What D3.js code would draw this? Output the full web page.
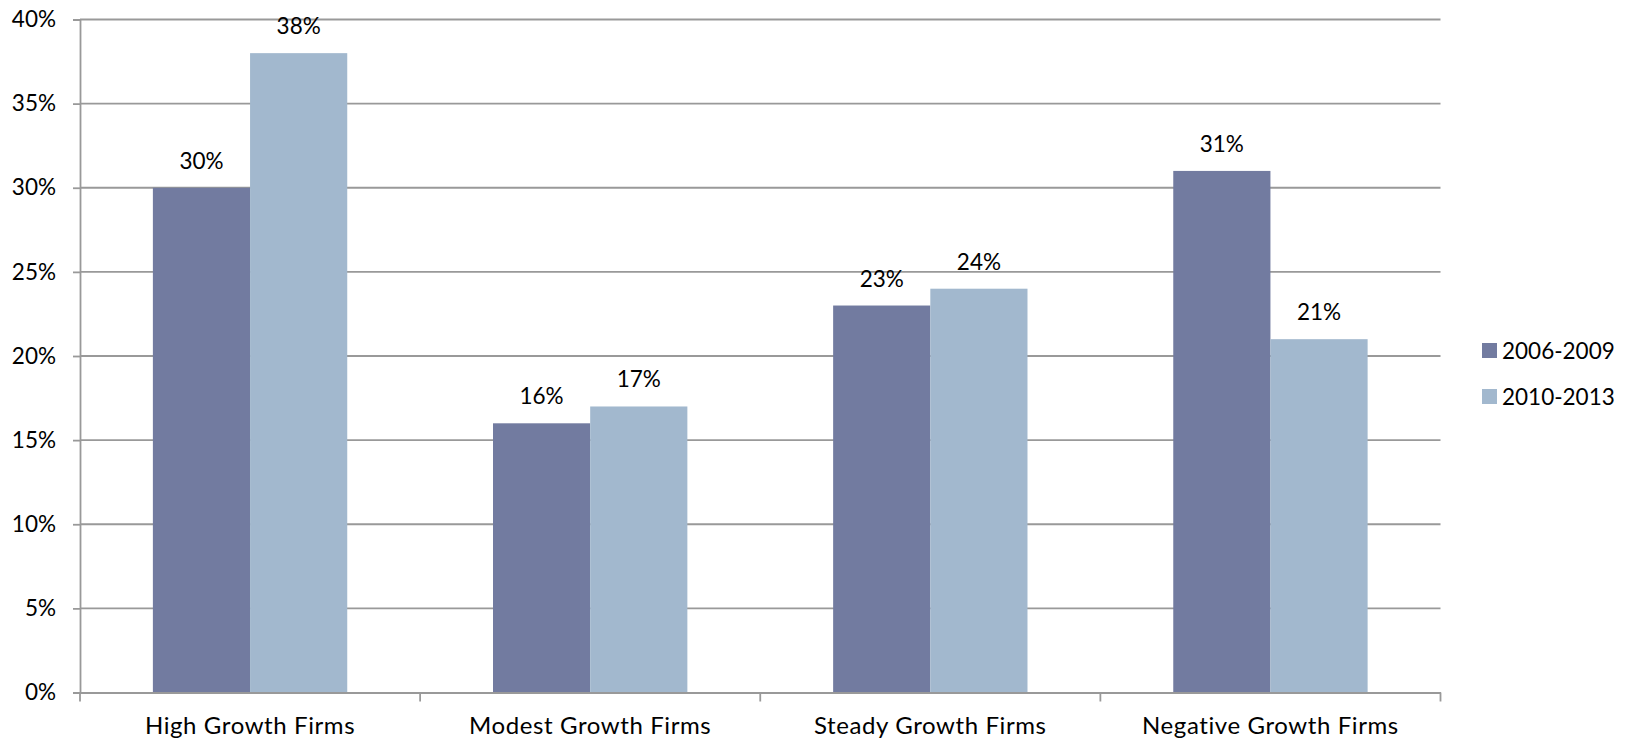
<!DOCTYPE html>
<html>
<head>
<meta charset="utf-8">
<script src="https://cdn.jsdelivr.net/npm/d3@7"></script>
<style>
  html, body { margin: 0; padding: 0; background: #fff; }
  svg { display: block; font-family: "Lato", "Open Sans", sans-serif; }
</style>
</head>
<body>
<svg id="chart" width="1635" height="742"></svg>
<script>
const categories = ["High Growth Firms", "Modest Growth Firms", "Steady Growth Firms", "Negative Growth Firms"];
const seriesNames = ["2006-2009", "2010-2013"];
const values2006 = [30, 16, 23, 31];
const values2010 = [38, 17, 24, 21];
const yTicks = [0, 5, 10, 15, 20, 25, 30, 35, 40];
const colors = ["#727ba0", "#a2b8ce"];

(function () {
const svg = d3.select("#chart");
const plotLeft = 80, plotRight = 1440.5, plotTop = 19.5, plotBottom = 692.5;
const gridColor = "#999999";

const x0 = d3.scaleBand().domain(categories).range([plotLeft, plotRight]).paddingInner(0).paddingOuter(0);
// Excel gap width 150%: bars occupy 2/(2+1.5) of band
const gapRatio = 1.5 / (2 + 1.5);
const x1 = d3.scaleBand().domain(seriesNames)
  .range([x0.bandwidth() * gapRatio / 2, x0.bandwidth() * (1 - gapRatio / 2)])
  .padding(0);
const y = d3.scaleLinear().domain([0, 40]).range([plotBottom, plotTop]);

// gridlines
svg.append("g").selectAll("line").data(yTicks.filter(d => d > 0)).join("line")
  .attr("x1", plotLeft).attr("x2", plotRight)
  .attr("y1", d => y(d)).attr("y2", d => y(d))
  .attr("stroke", gridColor).attr("stroke-width", 1.8);

// bars
const data = categories.map((c, i) => ({ cat: c, vals: [values2006[i], values2010[i]] }));
const groups = svg.append("g").selectAll("g").data(data).join("g")
  .attr("transform", d => `translate(${x0(d.cat)},0)`);
groups.selectAll("rect").data(d => d.vals.map((v, j) => ({ v, s: seriesNames[j], j })))
  .join("rect")
  .attr("x", d => x1(d.s))
  .attr("width", x1.bandwidth())
  .attr("y", d => y(d.v))
  .attr("height", d => y(0) - y(d.v))
  .attr("fill", d => colors[d.j]);

groups.selectAll("text").data(d => d.vals.map((v, j) => ({ v, s: seriesNames[j], j })))
  .join("text")
  .attr("x", d => x1(d.s) + x1.bandwidth() / 2)
  .attr("y", d => y(d.v) - 19)
  .attr("text-anchor", "middle")
  .attr("font-size", 22.5)
  .attr("fill", "#000")
  .text(d => d.v + "%");

// y axis
const yAxis = d3.axisLeft(y).tickValues(yTicks).tickFormat(d => d + "%").tickSize(7).tickPadding(17);
const ya = svg.append("g").attr("transform", `translate(${plotLeft},0)`).call(yAxis);
ya.select(".domain").attr("stroke", gridColor).attr("stroke-width", 1.8);
ya.selectAll(".tick line").attr("stroke", gridColor).attr("stroke-width", 1.8);
ya.selectAll(".tick text").attr("font-size", 22.5).attr("fill", "#000").attr("font-family", "Lato");

// x axis
const xAxis = d3.axisBottom(x0).tickSize(0).tickPadding(24);
const xa = svg.append("g").attr("transform", `translate(0,${plotBottom})`).call(xAxis);
xa.select(".domain").attr("stroke", gridColor).attr("stroke-width", 1.8);
xa.selectAll(".tick text").attr("font-size", 24).attr("letter-spacing", 0.6)
  .attr("fill", "#000").attr("font-family", "Lato");
// category boundary ticks
const bounds = categories.map(c => x0(c)).concat([plotRight]);
xa.append("g").selectAll("line").data(bounds).join("line")
  .attr("x1", d => d).attr("x2", d => d).attr("y1", 0).attr("y2", 9)
  .attr("stroke", gridColor).attr("stroke-width", 1.8);

// legend
const legend = svg.append("g").attr("transform", "translate(1482,343)");
const li = legend.selectAll("g").data(seriesNames).join("g")
  .attr("transform", (d, i) => `translate(0,${i * 46})`);
li.append("rect").attr("width", 15).attr("height", 15).attr("fill", (d, i) => colors[i]);
li.append("text").attr("x", 20).attr("y", 15.5).attr("font-size", 22.5).attr("fill", "#000").text(d => d);
})();
</script>
</body>
</html>
